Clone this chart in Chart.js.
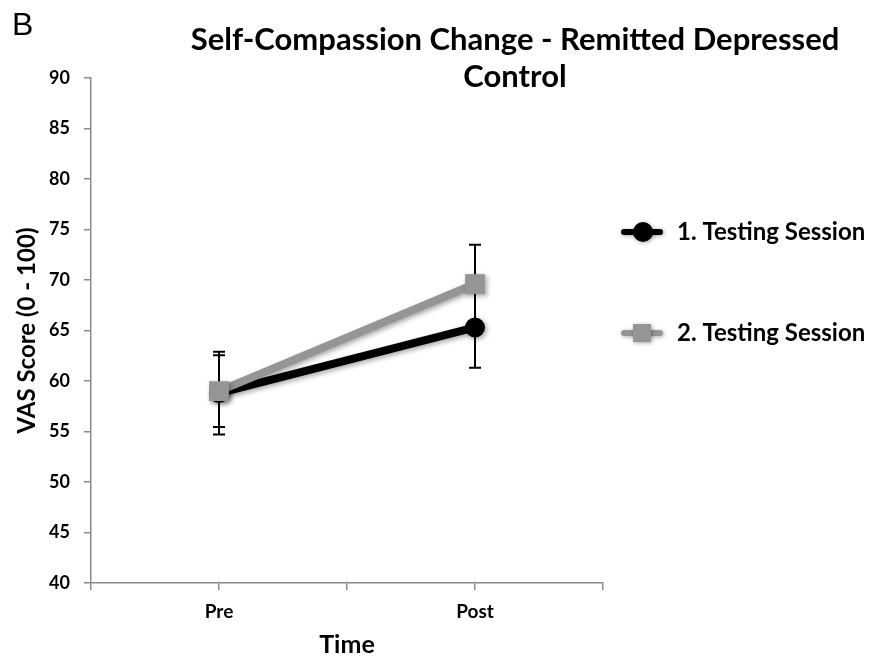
<!DOCTYPE html>
<html><head><meta charset="utf-8">
<script src="https://cdn.jsdelivr.net/npm/chart.js@4"></script>
<style>html,body{margin:0;padding:0;background:#fff}#wrap{width:873px;height:659px;position:relative}</style>
</head><body><div id="wrap"><canvas id="c" width="873" height="659"></canvas></div>
<script>
const categories = ['Pre', 'Post'];
const seriesNames = ['1. Testing Session', '2. Testing Session'];
const session1 = [58.8, 65.3];
const session1Err = [4.1, 4.0];
const session2 = [59.0, 69.6];
const session2Err = [3.55, 3.9];
const yTicks = [40, 45, 50, 55, 60, 65, 70, 75, 80, 85, 90];
const titleLines = ['Self-Compassion Change - Remitted Depressed', 'Control'];

const FONT = 'Lato, "Open Sans", sans-serif';
const AXIS_COLOR = '#8a8a8a';
const tickLabels = ['', categories[0], '', categories[1], ''];
const toPoints = arr => arr.map((v, i) => ({x: i * 2 + 1, y: v}));

const errors = [session1Err, session2Err];

const errorBarPlugin = {
  id: 'errbars',
  beforeDatasetsDraw(chart) {
    const ctx = chart.ctx, xs = chart.scales.x, ys = chart.scales.y;
    ctx.save();
    ctx.strokeStyle = '#000'; ctx.lineWidth = 2;
    chart.data.datasets.forEach((ds, di) => {
      ds.data.forEach((p, i) => {
        const e = errors[di][i];
        const x = xs.getPixelForValue(p.x);
        const yt = ys.getPixelForValue(p.y + e), yb = ys.getPixelForValue(p.y - e);
        ctx.beginPath();
        ctx.moveTo(x, yt); ctx.lineTo(x, yb);
        ctx.moveTo(x - 6, yt); ctx.lineTo(x + 6, yt);
        ctx.moveTo(x - 6, yb); ctx.lineTo(x + 6, yb);
        ctx.stroke();
      });
    });
    ctx.restore();
  }
};

const shadowPlugin = {
  id: 'shadow',
  beforeDatasetDraw(chart) {
    const ctx = chart.ctx;
    ctx.save();
    ctx.shadowColor = 'rgba(0,0,0,0.35)';
    ctx.shadowBlur = 5; ctx.shadowOffsetX = 2; ctx.shadowOffsetY = 2;
  },
  afterDatasetDraw(chart) { chart.ctx.restore(); }
};

const decorPlugin = {
  id: 'decor',
  afterDraw(chart) {
    const ctx = chart.ctx;
    ctx.save();
    ctx.fillStyle = '#000';
    ctx.textBaseline = 'alphabetic';
    ctx.font = '32px "Liberation Sans", Arial, sans-serif';
    ctx.textAlign = 'left';
    ctx.fillText('B', 12, 35);
    ctx.textBaseline = 'middle';
    ctx.font = 'bold 31px ' + FONT;
    ctx.textAlign = 'center';
    ctx.fillText(titleLines[0], 515, 40);
    ctx.fillText(titleLines[1], 515, 77);
    // legend
    const ys = [232, 333];
    chart.data.datasets.forEach((ds, i) => {
      const y = ys[i];
      ctx.save();
      ctx.shadowColor = 'rgba(0,0,0,0.35)'; ctx.shadowBlur = 4; ctx.shadowOffsetX = 1; ctx.shadowOffsetY = 1;
      ctx.strokeStyle = ds.borderColor; ctx.lineWidth = 6; ctx.lineCap = 'round';
      ctx.beginPath(); ctx.moveTo(624, y); ctx.lineTo(660, y); ctx.stroke();
      ctx.fillStyle = ds.pointBackgroundColor;
      if (ds.pointStyle === 'circle') { ctx.beginPath(); ctx.arc(643, y, 10, 0, Math.PI * 2); ctx.fill(); }
      else { ctx.fillRect(633, y - 9, 18, 18); }
      ctx.restore();
      ctx.fillStyle = '#000';
      ctx.font = 'bold 24px ' + FONT;
      ctx.textAlign = 'left';
      ctx.fillText(ds.label, 677, y);
    });
    ctx.restore();
  }
};

new Chart(document.getElementById('c'), {
  type: 'line',
  data: {
    datasets: [
      { label: seriesNames[0], data: toPoints(session1), order: 2, borderColor: '#000', backgroundColor: '#000',
        pointBackgroundColor: '#000', pointBorderColor: '#000', borderWidth: 8, pointStyle: 'circle', pointRadius: 10, pointBorderWidth: 0 },
      { label: seriesNames[1], data: toPoints(session2), order: 1, borderColor: '#959595', backgroundColor: '#959595',
        pointBackgroundColor: '#959595', pointBorderColor: '#959595', borderWidth: 8, pointStyle: 'rect', pointRadius: 14, pointBorderWidth: 0 }
    ]
  },
  options: {
    responsive: false, animation: false,
    layout: { padding: { top: 78, right: 270, left: 0, bottom: 0 } },
    plugins: { legend: { display: false }, title: { display: false }, tooltip: { enabled: false } },
    scales: {
      x: {
        type: 'linear', min: 0, max: 4,
        afterBuildTicks: s => { s.ticks = [0, 1, 2, 3, 4].map(v => ({value: v})); },
        afterFit: s => { s.height = 76; },
        ticks: { callback: v => tickLabels[v] || '', color: '#000', font: { family: FONT, weight: 'bold', size: 19 }, padding: 10, maxRotation: 0, autoSkip: false },
        grid: { drawOnChartArea: false, drawTicks: true, tickLength: 7, color: AXIS_COLOR, lineWidth: 1.5 },
        border: { color: AXIS_COLOR, width: 1.5 },
        title: { display: true, text: 'Time', color: '#000', font: { family: FONT, weight: 'bold', size: 25, lineHeight: 1.1 }, padding: { top: 0, bottom: 0 } }
      },
      y: {
        min: 40, max: 90,
        afterBuildTicks: s => { s.ticks = yTicks.map(v => ({value: v})); },
        afterFit: s => { s.width = 91; },
        ticks: { color: '#000', font: { family: FONT, weight: 'bold', size: 18 }, padding: 14 },
        grid: { drawOnChartArea: false, drawTicks: true, tickLength: 7, color: AXIS_COLOR, lineWidth: 1.5 },
        border: { color: AXIS_COLOR, width: 1.5 },
        title: { display: true, text: 'VAS Score (0 - 100)', color: '#000', font: { family: FONT, weight: 'bold', size: 24 }, padding: { top: 13, bottom: 0 } }
      }
    }
  },
  plugins: [errorBarPlugin, shadowPlugin, decorPlugin]
});
</script></body></html>
